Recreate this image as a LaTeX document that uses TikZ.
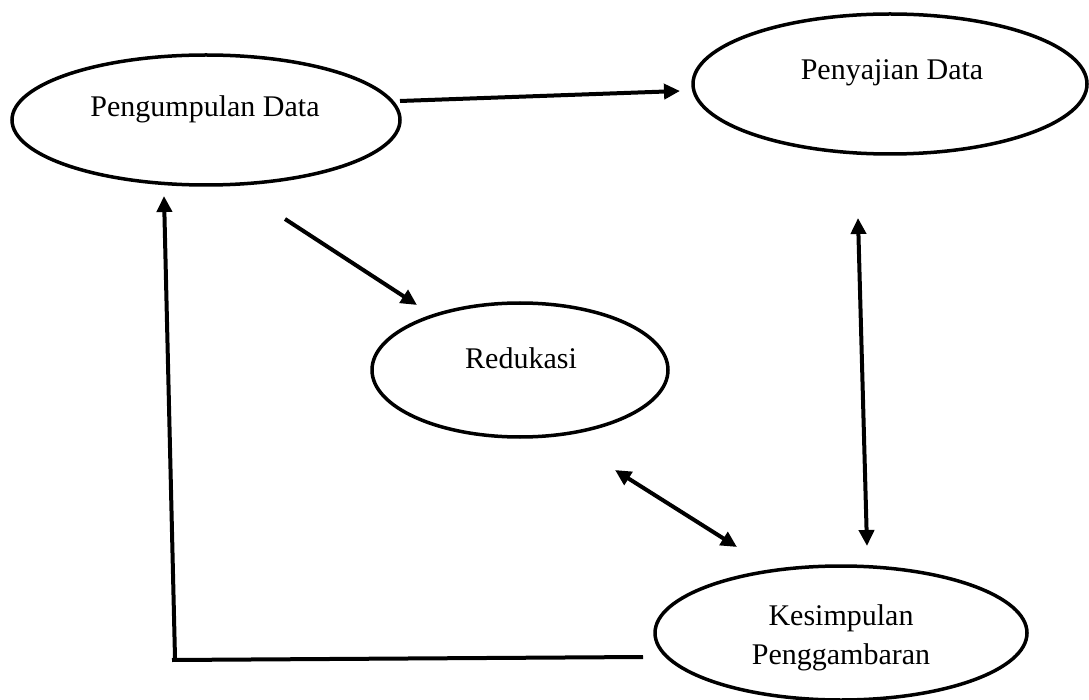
\documentclass[tikz,border=0pt]{standalone}
\usepackage{fontspec}
\setmainfont{Liberation Serif}
\usetikzlibrary{shapes.geometric,arrows.meta}
\begin{document}
\begin{tikzpicture}[x=1pt,y=-1pt,
  oval/.style={draw,ellipse,line width=3.5pt,inner sep=0pt},
  lbl/.style={font=\fontsize{30}{39}\selectfont,anchor=base,inner sep=0pt,align=center},
  conn/.style={line width=4pt},
  tip/.style={-{Triangle[length=16pt,width=15pt]}},
  dtip/.style={{Triangle[length=16pt,width=15pt]}-{Triangle[length=16pt,width=15pt]}}]
\useasboundingbox[fill=white] (0,0) rectangle (1089,700);
% ellipses
\node[oval,minimum width=388pt,minimum height=130pt] (pd) at (206,120) {};
\node[oval,minimum width=394pt,minimum height=140pt] (py) at (890,84) {};
\node[oval,minimum width=296pt,minimum height=134pt] (rd) at (520,370) {};
\node[oval,minimum width=372pt,minimum height=134pt] (ks) at (841,633) {};
% labels
\node[lbl] (tpd) at (205,117) {Pengumpulan Data};
\node[lbl] (tpy) at (892,80) {Penyajian Data};
\node[lbl] (trd) at (521,368) {Redukasi};
\node[lbl] (tks1) at (841,625) {Kesimpulan};
\node[lbl] (tks2) at (841,664) {Penggambaran};
% connector endpoints
\coordinate (a1s) at (400,101);
\coordinate (a1e) at (680,91);
\coordinate (a2s) at (285,219);
\coordinate (a2e) at (417,305);
\coordinate (a3s) at (615,470);
\coordinate (a3e) at (737,547);
\coordinate (a4s) at (858,218);
\coordinate (a4e) at (867,546);
\coordinate (l1s) at (643,657);
\coordinate (l1e) at (172,660);
\coordinate (a5s) at (175,658);
\coordinate (a5e) at (164,196);
% connectors
\draw[conn,tip] (a1s) -- (a1e);
\draw[conn,tip] (a2s) -- (a2e);
\draw[conn,dtip] (a3s) -- (a3e);
\draw[conn,dtip] (a4s) -- (a4e);
\draw[conn] (l1s) -- (l1e);
\draw[conn,tip] (a5s) -- (a5e);
\end{tikzpicture}
\end{document}
